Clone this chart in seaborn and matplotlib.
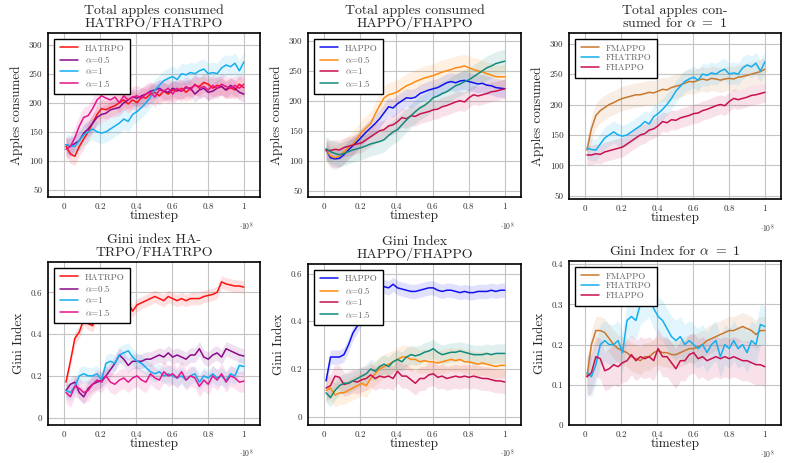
import numpy as np
import seaborn as sns
import matplotlib.pyplot as plt

# time axis, in units of 1e8 steps
steps = np.linspace(0.01, 1.0, 41)

# --- apples consumed, HATRPO / FHATRPO
hatrpo_apples = [125, 112, 108, 125, 138, 150, 165, 180, 190, 188, 192, 195, 200, 205, 198, 205, 200, 210, 208, 215,
                 218, 212, 220, 215, 222, 220, 225, 218, 225, 230, 228, 235, 232, 225, 230, 228, 222, 226, 222, 232, 226]
fhatrpo05_apples = [128, 125, 130, 135, 148, 155, 165, 175, 180, 182, 188, 190, 192, 200, 205, 210, 208, 212, 215, 220,
                    222, 225, 220, 218, 225, 222, 220, 226, 225, 215, 222, 225, 218, 220, 225, 228, 222, 230, 225, 218, 215]
fhatrpo1_apples = [128, 126, 125, 135, 145, 150, 155, 150, 148, 150, 155, 160, 165, 172, 168, 180, 185, 192, 200, 210,
                   222, 230, 238, 242, 245, 240, 250, 248, 252, 250, 255, 258, 250, 252, 250, 260, 265, 262, 268, 255, 270]
fhatrpo15_apples = [120, 125, 140, 160, 175, 178, 190, 205, 212, 208, 205, 210, 200, 212, 205, 210, 212, 208, 215, 218,
                    210, 222, 220, 225, 215, 225, 220, 228, 222, 232, 225, 228, 222, 230, 225, 232, 228, 225, 230, 225, 232]

# --- apples consumed, HAPPO / FHAPPO
happo_apples = [118, 105, 103, 104, 110, 118, 125, 132, 140, 148, 155, 162, 170, 180, 190, 188, 195, 200, 205, 204,
                206, 212, 215, 218, 220, 222, 226, 230, 232, 230, 233, 234, 232, 230, 228, 229, 226, 225, 222, 221, 220]
fhappo05_apples = [118, 108, 105, 108, 115, 122, 128, 138, 148, 155, 162, 178, 192, 205, 210, 212, 215, 220, 225, 228,
                   232, 235, 238, 240, 242, 245, 248, 250, 252, 255, 256, 258, 255, 252, 250, 248, 245, 243, 240, 240, 240]
fhappo1_apples = [117, 117, 119, 118, 122, 124, 126, 128, 130, 135, 140, 145, 150, 152, 158, 160, 165, 172, 170, 175,
                  174, 178, 180, 182, 185, 186, 190, 192, 195, 198, 200, 198, 205, 210, 208, 210, 212, 215, 216, 218, 220]
fhappo15_apples = [120, 115, 112, 110, 112, 115, 118, 120, 122, 125, 128, 130, 132, 135, 142, 148, 152, 160, 168, 175,
                   182, 188, 192, 198, 205, 208, 212, 215, 220, 225, 228, 232, 235, 240, 245, 250, 255, 258, 262, 264, 266]

# --- apples consumed, alpha = 1
fmappo_apples = [125, 160, 182, 190, 195, 200, 203, 207, 210, 212, 214, 216, 216, 218, 220, 219, 222, 225, 224, 228,
                 230, 232, 235, 238, 237, 240, 242, 240, 243, 242, 240, 242, 243, 242, 245, 246, 248, 250, 252, 254, 258]

# --- gini index, HATRPO / FHATRPO
hatrpo_gini = [0.17, 0.27, 0.38, 0.41, 0.47, 0.45, 0.44, 0.50, 0.53, 0.54, 0.52, 0.54, 0.55, 0.54, 0.55, 0.51, 0.54,
               0.55, 0.56, 0.57, 0.58, 0.57, 0.56, 0.58, 0.57, 0.56, 0.57, 0.56, 0.57, 0.57, 0.57, 0.58, 0.585, 0.59,
               0.60, 0.65, 0.64, 0.635, 0.63, 0.63, 0.625]
fhatrpo05_gini = [0.13, 0.16, 0.17, 0.12, 0.10, 0.14, 0.16, 0.17, 0.18, 0.20, 0.23, 0.26, 0.30, 0.28, 0.25, 0.27, 0.27,
                  0.27, 0.28, 0.28, 0.29, 0.30, 0.29, 0.31, 0.29, 0.30, 0.29, 0.28, 0.30, 0.30, 0.33, 0.29, 0.28, 0.30,
                  0.31, 0.29, 0.33, 0.32, 0.31, 0.30, 0.295]
fhatrpo1_gini = [0.13, 0.12, 0.15, 0.20, 0.21, 0.20, 0.20, 0.21, 0.18, 0.26, 0.27, 0.26, 0.30, 0.31, 0.32, 0.29, 0.27,
                 0.26, 0.24, 0.22, 0.21, 0.22, 0.20, 0.21, 0.20, 0.19, 0.20, 0.18, 0.20, 0.21, 0.17, 0.20, 0.19, 0.21,
                 0.19, 0.20, 0.18, 0.21, 0.20, 0.25, 0.245]
fhatrpo15_gini = [0.12, 0.10, 0.15, 0.14, 0.12, 0.13, 0.16, 0.18, 0.17, 0.20, 0.17, 0.16, 0.18, 0.19, 0.17, 0.19, 0.20,
                  0.18, 0.17, 0.21, 0.19, 0.18, 0.22, 0.20, 0.21, 0.19, 0.22, 0.18, 0.20, 0.19, 0.15, 0.18, 0.16, 0.20,
                  0.18, 0.21, 0.17, 0.20, 0.19, 0.17, 0.175]

# --- gini index, HAPPO / FHAPPO
happo_gini = [0.15, 0.25, 0.25, 0.25, 0.26, 0.30, 0.35, 0.38, 0.42, 0.46, 0.49, 0.53, 0.56, 0.545, 0.54, 0.555, 0.54,
              0.535, 0.53, 0.525, 0.525, 0.53, 0.535, 0.54, 0.54, 0.53, 0.525, 0.53, 0.53, 0.525, 0.52, 0.525, 0.52,
              0.52, 0.525, 0.525, 0.525, 0.53, 0.525, 0.53, 0.53]
fhappo05_gini = [0.11, 0.12, 0.09, 0.10, 0.10, 0.11, 0.12, 0.13, 0.14, 0.13, 0.16, 0.18, 0.20, 0.21, 0.22, 0.23, 0.24,
                 0.25, 0.25, 0.24, 0.24, 0.23, 0.235, 0.23, 0.23, 0.225, 0.23, 0.235, 0.24, 0.235, 0.24, 0.23, 0.23,
                 0.225, 0.22, 0.225, 0.22, 0.215, 0.21, 0.215, 0.215]
fhappo1_gini = [0.12, 0.13, 0.17, 0.165, 0.135, 0.14, 0.15, 0.145, 0.155, 0.16, 0.175, 0.16, 0.17, 0.165, 0.17, 0.16,
                0.19, 0.17, 0.17, 0.155, 0.14, 0.16, 0.16, 0.175, 0.18, 0.165, 0.17, 0.16, 0.165, 0.17, 0.165, 0.17,
                0.165, 0.17, 0.165, 0.16, 0.16, 0.155, 0.15, 0.15, 0.145]
fhappo15_gini = [0.10, 0.08, 0.11, 0.13, 0.14, 0.14, 0.15, 0.16, 0.17, 0.18, 0.20, 0.19, 0.21, 0.22, 0.21, 0.23, 0.24,
                 0.23, 0.25, 0.26, 0.255, 0.26, 0.27, 0.275, 0.285, 0.27, 0.26, 0.265, 0.27, 0.27, 0.275, 0.27, 0.265,
                 0.26, 0.26, 0.26, 0.265, 0.26, 0.265, 0.265, 0.265]

# --- gini index, alpha = 1
fmappo_gini = [0.12, 0.20, 0.235, 0.235, 0.23, 0.215, 0.20, 0.19, 0.185, 0.18, 0.17, 0.165, 0.16, 0.17, 0.17, 0.18,
               0.185, 0.18, 0.18, 0.175, 0.175, 0.18, 0.185, 0.19, 0.19, 0.195, 0.20, 0.21, 0.215, 0.22, 0.225, 0.23,
               0.235, 0.235, 0.24, 0.245, 0.24, 0.235, 0.225, 0.235, 0.235]

RED = '#ff1010'
PURPLE = '#8a0a8a'
SKY = '#12aef0'
PINK = '#e8128c'
BLUE = '#1010f0'
ORANGE = '#ff8a10'
CRIMSON = '#c8104e'
TEAL = '#108a7c'
BROWN = '#c8782e'

# (label, values, colour, band half-width)
panels = [
    dict(title='Total apples consumed\nHATRPO/FHATRPO', ylabel='Apples consumed',
         ylim=(38, 320), yticks=[50, 100, 150, 200, 250, 300],
         series=[('HATRPO', hatrpo_apples, RED, 16), (r'$\alpha$=0.5', fhatrpo05_apples, PURPLE, 14),
                 (r'$\alpha$=1', fhatrpo1_apples, SKY, 18), (r'$\alpha$=1.5', fhatrpo15_apples, PINK, 18)],
         box=(48, 260, 33, 197)),
    dict(title='Total apples consumed\nHAPPO/FHAPPO', ylabel='Apples consumed',
         ylim=(39.5, 313), yticks=[50, 100, 150, 200, 250, 300],
         series=[('HAPPO', happo_apples, BLUE, 15), (r'$\alpha$=0.5', fhappo05_apples, ORANGE, 20),
                 (r'$\alpha$=1', fhappo1_apples, CRIMSON, 16), (r'$\alpha$=1.5', fhappo15_apples, TEAL, 20)],
         box=(308, 521, 33, 197)),
    dict(title='Total apples con-\nsumed for $\\alpha\\ =\\ 1$', ylabel='Apples consumed',
         ylim=(44.6, 317.6), yticks=[50, 100, 150, 200, 250, 300],
         series=[('FMAPPO', fmappo_apples, BROWN, 20), ('FHATRPO', fhatrpo1_apples, SKY, 18),
                 ('FHAPPO', fhappo1_apples, CRIMSON, 16)],
         box=(569, 781, 33, 199)),
    dict(title='Gini index HA-\nTRPO/FHATRPO', ylabel='Gini Index',
         ylim=(-0.035, 0.745), yticks=[0, 0.2, 0.4, 0.6],
         series=[('HATRPO', hatrpo_gini, RED, 0.03), (r'$\alpha$=0.5', fhatrpo05_gini, PURPLE, 0.035),
                 (r'$\alpha$=1', fhatrpo1_gini, SKY, 0.04), (r'$\alpha$=1.5', fhatrpo15_gini, PINK, 0.05)],
         box=(48, 260, 262, 425)),
    dict(title='Gini Index\nHAPPO/FHAPPO', ylabel='Gini Index',
         ylim=(-0.035, 0.64), yticks=[0, 0.2, 0.4, 0.6],
         series=[('HAPPO', happo_gini, BLUE, 0.03), (r'$\alpha$=0.5', fhappo05_gini, ORANGE, 0.05),
                 (r'$\alpha$=1', fhappo1_gini, CRIMSON, 0.05), (r'$\alpha$=1.5', fhappo15_gini, TEAL, 0.04)],
         box=(308, 521, 264, 425)),
    dict(title='Gini Index for $\\alpha\\ =\\ 1$', ylabel='Gini Index',
         ylim=(0, 0.408), yticks=[0, 0.1, 0.2, 0.3, 0.4],
         series=[('FMAPPO', fmappo_gini, BROWN, 0.035), ('FHATRPO', fhatrpo1_gini, SKY, 0.05),
                 ('FHAPPO', fhappo1_gini, CRIMSON, 0.05)],
         box=(569, 781, 261, 425)),
]

sns.set_theme(style='whitegrid')
plt.rcParams['font.family'] = ['cmr10', 'DejaVu Serif']
plt.rcParams['mathtext.fontset'] = 'cm'
plt.rcParams['axes.formatter.use_mathtext'] = True

W, H = 789, 463
fig = plt.figure(figsize=(W / 100, H / 100), dpi=100)

for p in panels:
    l, r, t, b = p['box']
    ax = fig.add_axes([l / W, 1 - b / H, (r - l) / W, (b - t) / H])
    for label, vals, col, spread in p['series']:
        vals = np.asarray(vals, dtype=float)
        ax.fill_between(steps, vals - spread, vals + spread, color=col, alpha=0.12, linewidth=0)
        sns.lineplot(x=steps, y=vals, color=col, linewidth=1.1, label=label, ax=ax)
    ax.set_xlim(-0.09, 1.09)
    ax.set_ylim(*p['ylim'])
    ax.set_xticks([0, 0.2, 0.4, 0.6, 0.8, 1])
    ax.set_xticklabels(['0', '0.2', '0.4', '0.6', '0.8', '1'])
    ax.set_yticks(p['yticks'])
    ax.set_yticklabels([f'{v:g}' for v in p['yticks']])
    ax.tick_params(labelsize=6.5, length=0, pad=4, colors='#333333')
    ax.grid(True, color='#c4c4c4', linewidth=0.8)
    for s in ax.spines.values():
        s.set_color('black')
        s.set_linewidth(1.2)
    ax.set_title(p['title'], fontsize=10, pad=4, linespacing=0.95)
    ax.set_xlabel('timestep', fontsize=9.5, labelpad=-1)
    ax.set_ylabel(p['ylabel'], fontsize=9.5, labelpad=4)
    ax.text(0.9, -0.2, r'$\cdot 10^8$', transform=ax.transAxes, fontsize=5.5, color='#333333')
    leg = ax.legend(loc='upper left', bbox_to_anchor=(0.03, 0.965), borderaxespad=0, fontsize=6.5,
                    frameon=True, fancybox=False, framealpha=1, edgecolor='black',
                    handlelength=2.0, labelspacing=0.15, borderpad=0.6, handletextpad=0.8)
    leg.get_frame().set_linewidth(1.0)
    for txt in leg.get_texts():
        txt.set_color('#666666')

fig.savefig('out.png', dpi=100)
